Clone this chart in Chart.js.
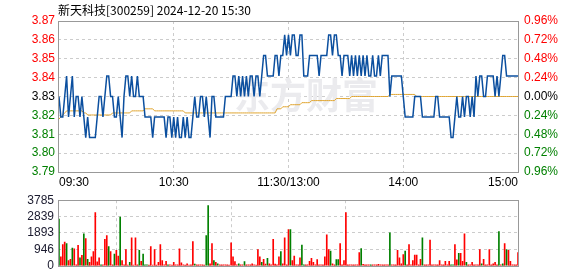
<!DOCTYPE html>
<html>
<head>
<meta charset="utf-8">
<script src="https://cdn.jsdelivr.net/npm/chart.js@4.4.1/dist/chart.umd.min.js"></script>
<style>
  body { margin: 0; background: #fff; width: 578px; height: 276px; overflow: hidden; position: relative; }
  canvas { position: absolute; left: 0; }
  #priceChart { top: 0; }
  #volChart { top: 189px; }
</style>
</head>
<body>
<canvas id="priceChart" width="578" height="192"></canvas>
<canvas id="volChart" width="578" height="88"></canvas>
<script>
// chart data, one value per minute 09:30 .. 15:00 (241 points)
const chartTitle = '新天科技[300259] 2024-12-20 15:30';
const prevClose = 3.83;
const timeLabels = ['09:30', '10:30', '11:30/13:00', '14:00', '15:00'];
const timeTicks = [0, 60, 120, 180, 240];
const pctSteps = [-0.96, -0.72, -0.48, -0.24, 0, 0.24, 0.48, 0.72, 0.96];
const volTicks = [0, 946, 1893, 2839, 3785];

const prices = [
  3.83,3.82,3.82,3.83,3.84,3.82,3.83,3.84,3.82,3.83,
  3.83,3.82,3.83,3.82,3.81,3.82,3.81,3.81,3.81,3.81,
  3.82,3.83,3.83,3.82,3.83,3.84,3.84,3.83,3.83,3.82,
  3.82,3.83,3.82,3.81,3.83,3.84,3.84,3.83,3.84,3.83,
  3.83,3.84,3.83,3.83,3.83,3.82,3.82,3.82,3.82,3.81,
  3.82,3.82,3.82,3.82,3.82,3.82,3.81,3.82,3.82,3.81,
  3.82,3.81,3.82,3.81,3.81,3.82,3.81,3.82,3.81,3.81,
  3.82,3.83,3.82,3.82,3.83,3.83,3.82,3.83,3.82,3.81,
  3.83,3.83,3.82,3.82,3.82,3.82,3.82,3.83,3.83,3.83,
  3.83,3.84,3.84,3.83,3.84,3.83,3.84,3.83,3.84,3.83,
  3.84,3.84,3.83,3.84,3.84,3.83,3.84,3.85,3.85,3.84,
  3.84,3.84,3.84,3.85,3.85,3.84,3.85,3.85,3.86,3.85,
  3.86,3.85,3.86,3.86,3.85,3.85,3.86,3.86,3.84,3.84,
  3.84,3.85,3.85,3.85,3.85,3.85,3.84,3.85,3.85,3.85,
  3.85,3.86,3.86,3.85,3.86,3.86,3.85,3.85,3.84,3.85,
  3.85,3.85,3.84,3.85,3.84,3.85,3.84,3.85,3.84,3.85,
  3.84,3.85,3.84,3.84,3.85,3.84,3.84,3.85,3.84,3.85,
  3.85,3.85,3.85,3.83,3.84,3.84,3.84,3.84,3.84,3.84,
  3.83,3.82,3.82,3.82,3.82,3.82,3.83,3.83,3.83,3.83,
  3.82,3.82,3.82,3.82,3.82,3.82,3.82,3.83,3.83,3.82,
  3.82,3.82,3.82,3.82,3.82,3.81,3.81,3.82,3.83,3.82,
  3.82,3.83,3.82,3.83,3.83,3.82,3.83,3.82,3.84,3.83,
  3.84,3.84,3.83,3.83,3.84,3.84,3.84,3.84,3.83,3.84,
  3.83,3.84,3.85,3.85,3.84,3.84,3.84,3.84,3.84,3.84,
  3.84
];

const avgPrices = [
  3.819,3.820,3.821,3.822,3.823,3.823,3.823,3.823,3.823,3.823,
  3.823,3.823,3.823,3.822,3.822,3.821,3.821,3.821,3.821,3.821,
  3.821,3.821,3.821,3.821,3.821,3.821,3.821,3.821,3.822,3.822,
  3.822,3.822,3.822,3.822,3.822,3.822,3.822,3.822,3.823,3.823,
  3.823,3.823,3.823,3.823,3.823,3.824,3.824,3.824,3.824,3.824,
  3.823,3.823,3.823,3.823,3.823,3.823,3.823,3.823,3.823,3.823,
  3.823,3.823,3.823,3.823,3.823,3.823,3.822,3.822,3.822,3.822,
  3.822,3.822,3.822,3.822,3.822,3.822,3.822,3.822,3.822,3.822,
  3.822,3.822,3.822,3.822,3.822,3.822,3.822,3.822,3.822,3.822,
  3.822,3.822,3.822,3.822,3.822,3.822,3.822,3.822,3.822,3.822,
  3.822,3.822,3.822,3.822,3.822,3.822,3.822,3.822,3.822,3.822,
  3.822,3.822,3.822,3.822,3.824,3.824,3.824,3.825,3.825,3.825,
  3.825,3.826,3.826,3.826,3.826,3.826,3.826,3.827,3.827,3.827,
  3.827,3.827,3.828,3.828,3.828,3.828,3.828,3.828,3.828,3.828,
  3.828,3.828,3.828,3.828,3.828,3.829,3.829,3.829,3.829,3.829,
  3.829,3.829,3.829,3.830,3.830,3.830,3.830,3.830,3.830,3.830,
  3.830,3.830,3.830,3.830,3.830,3.830,3.830,3.830,3.830,3.830,
  3.830,3.830,3.830,3.831,3.831,3.831,3.831,3.831,3.831,3.831,
  3.831,3.831,3.831,3.831,3.831,3.831,3.831,3.830,3.830,3.830,
  3.830,3.830,3.830,3.830,3.830,3.830,3.830,3.830,3.830,3.830,
  3.830,3.830,3.830,3.830,3.830,3.830,3.830,3.830,3.830,3.830,
  3.830,3.830,3.830,3.830,3.830,3.830,3.830,3.830,3.830,3.830,
  3.830,3.830,3.830,3.830,3.830,3.830,3.830,3.830,3.830,3.830,
  3.830,3.830,3.830,3.830,3.830,3.830,3.830,3.830,3.830,3.830,
  3.830
];

const volumes = [
  2700, 511,1228,1364,1279, 307, 375,1023, 972,  50,
  1177, 460, 597,1841,1569, 375, 205, 511, 818,3069,
   230, 460,  60,  50,1534,1739,1108, 818,  60, 682,
   887, 563,2813, 307,  60, 938,  40, 200,1620,  40,
  1620,  60, 887, 256, 682,  50,  50,  40,1108,  40,
   938,  40, 200,1228, 307,  50, 255,  60,  50,  40,
   200,  50,  60, 972, 170,  50,  40, 120,  40,  50,
  1398, 100,  50,  50,  50,  50,  40,1739,3478, 120,
  1279, 307, 200, 120,  60,  60,  60,  60,  50,  40,
  1330, 511, 250,  60, 120,  50,  50, 250,  50,  50,
    60, 120,  60,  40, 938, 511, 200, 375, 100, 426,
   120,  60,1534, 100,  50, 511, 818, 120,1620,  60,
  2097,2097, 307, 563,  60,  60, 460,1193,  60,  50,
    50, 256, 426, 205,  50, 358,  60,  50,  50, 511,
  1790, 938, 852, 120,  50, 358, 358,1279,  60, 307,
  3069,  60,  60,  60,  60,  60,  50, 767, 989,  80,
    60,  50,  60,  50,  60,  50,  60,  80,  50,  60,
    50,  50,  60,1909,  60,  60,  50, 887, 460, 120,
   648, 852,  60,1228,  50, 307, 614, 614,  60, 375,
  1620,  50,  50,  50,1484,  60,  60,  60,  50, 300,
    60,  60, 256,  50, 256,  60,  60,1228, 340, 716,
   716, 256,1841, 200,  60,  60, 200,  60,  60,  50,
   938, 120, 375,  60,  60, 938,  60, 120, 200,  60,
  1977,  60, 120,1279, 938, 887, 256,  50,  50,  50,
   767
];

// r = up minute (red), g = down minute (green)
const volSides = [
  'g','r','r','r','g','r','r','g','r','r',
  'r','g','r','g','r','g','r','r','r','r',
  'r','r','g','r','r','r','g','r','r','g',
  'r','r','g','r','r','r','r','g','r','r',
  'r','r','g','r','g','g','g','r','r','r',
  'r','r','r','r','r','r','r','g','r','r',
  'r','r','r','r','r','r','r','r','r','r',
  'r','g','r','r','r','r','r','g','g','r',
  'r','g','r','g','r','r','r','r','r','r',
  'r','r','r','r','g','r','r','g','r','r',
  'r','r','r','r','r','r','g','r','r','g',
  'r','r','r','r','r','r','g','r','r','r',
  'r','g','r','r','r','r','r','g','g','r',
  'r','r','r','r','r','r','r','r','r','r',
  'r','r','g','r','r','g','g','r','r','r',
  'r','r','r','r','r','r','r','r','g','r',
  'r','r','r','g','r','r','r','r','r','r',
  'r','r','r','g','r','r','r','r','r','r',
  'r','g','r','r','r','r','r','r','r','r',
  'g','r','r','r','r','r','r','r','r','r',
  'r','r','r','r','r','g','g','r','r','g',
  'r','r','r','g','r','r','r','r','r','r',
  'r','g','r','r','r','r','r','r','r','r',
  'g','r','g','r','g','r','r','r','r','r',
  'r'
];

const upColor = '#ff0000', downColor = '#008000', flatColor = '#000000';
const gridColor = '#cccccc';
Chart.defaults.font.family = "'Liberation Sans', Arial, sans-serif";
Chart.defaults.font.size = 12;

const yMin = prevClose * (1 - 0.0096);
const yMax = prevClose * (1 + 0.0096);
const priceTicks = pctSteps.map(p => prevClose * (1 + p / 100));

function sideColor(ctx) {
  let v = ctx.tick.value;
  if (Math.abs(v - prevClose) < 1e-6) return flatColor;
  return v > prevClose ? upColor : downColor;
}

// solid grey frame round the plot area
const framePlugin = {
  id: 'frame',
  afterDraw(chart) {
    let a = chart.chartArea, c = chart.ctx;
    c.save();
    c.strokeStyle = '#999';
    c.lineWidth = 1;
    c.strokeRect(Math.round(a.left) + 0.5, Math.round(a.top) + 0.5, Math.round(a.right - a.left) - 1, Math.round(a.bottom - a.top));
    c.restore();
  }
};

const titlePlugin = {
  id: 'pageTitle',
  afterDraw(chart) {
    let c = chart.ctx;
    c.save();
    c.fillStyle = '#000';
    c.font = "12px 'Noto Sans CJK SC'";
    c.textBaseline = 'middle';
    c.fillText(chartTitle, 58, 10);
    c.restore();
  }
};

const watermarkPlugin = {
  id: 'watermark',
  beforeDatasetsDraw(chart) {
    let c = chart.ctx;
    c.save();
    c.fillStyle = '#ebebee';
    c.font = "bold 36px 'Noto Sans CJK SC'";
    c.textBaseline = 'middle';
    c.fillText('东方财富', 234, 95);
    c.restore();
  }
};

new Chart(document.getElementById('priceChart'), {
  type: 'line',
  data: {
    datasets: [
      {
        data: prices.map((p, i) => ({ x: i, y: p })),
        borderColor: '#0b4f9f', borderWidth: 1.5, pointRadius: 0, tension: 0
      },
      {
        data: avgPrices.map((p, i) => ({ x: i, y: p })),
        borderColor: '#e0a530', borderWidth: 1, pointRadius: 0, tension: 0
      }
    ]
  },
  options: {
    responsive: false, animation: false, devicePixelRatio: 1,
    layout: { padding: { top: 21 } },
    plugins: { legend: { display: false }, tooltip: { enabled: false } },
    scales: {
      x: {
        type: 'linear', min: -0.5, max: 240.5,
        afterBuildTicks: s => { s.ticks = timeTicks.map(v => ({ value: v })); },
        ticks: { callback: (v, i) => timeLabels[i], align: 'inner', maxRotation: 0, autoSkip: false, padding: 3, color: '#000' },
        grid: { color: c => (c.index === 0 || c.index === 4) ? 'rgba(0,0,0,0)' : gridColor, drawTicks: false },
        border: { display: false, dash: [3, 3] },
        afterFit: s => { s.height = 20; }
      },
      y: {
        position: 'left', min: yMin, max: yMax,
        afterBuildTicks: s => { s.ticks = priceTicks.map(v => ({ value: v })); },
        ticks: { callback: v => v.toFixed(2), color: sideColor, padding: 3 },
        grid: { color: gridColor, drawTicks: false },
        border: { display: false, dash: [3, 3] },
        afterFit: s => { s.width = 58; }
      },
      y2: {
        position: 'right', min: yMin, max: yMax,
        afterBuildTicks: s => { s.ticks = priceTicks.map(v => ({ value: v })); },
        ticks: { callback: v => Math.abs((v - prevClose) / prevClose * 100).toFixed(2) + '%', color: sideColor, padding: 5 },
        grid: { display: false, drawTicks: false },
        border: { display: false },
        afterFit: s => { s.width = 59; }
      }
    }
  },
  plugins: [watermarkPlugin, framePlugin, titlePlugin]
});

new Chart(document.getElementById('volChart'), {
  type: 'bar',
  data: {
    datasets: [{
      data: volumes.map((v, i) => ({ x: i, y: v })),
      backgroundColor: volSides.map(s => s === 'r' ? upColor : downColor),
      barThickness: 1
    }]
  },
  options: {
    responsive: false, animation: false, devicePixelRatio: 1,
    layout: { padding: { top: 7 } },
    plugins: { legend: { display: false }, tooltip: { enabled: false } },
    scales: {
      x: {
        type: 'linear', min: -0.5, max: 240.5, offset: false,
        afterBuildTicks: s => { s.ticks = timeTicks.map(v => ({ value: v })); },
        ticks: { display: false },
        grid: { color: c => (c.index === 0 || c.index === 4) ? 'rgba(0,0,0,0)' : gridColor, drawTicks: false },
        border: { display: false, dash: [3, 3] },
        afterFit: s => { s.height = 7; }
      },
      y: {
        min: 0, max: 3785,
        afterBuildTicks: s => { s.ticks = volTicks.map(v => ({ value: v })); },
        ticks: { callback: v => String(v), color: '#1a1a2e', padding: 4 },
        grid: { color: gridColor, drawTicks: false },
        border: { display: false, dash: [3, 3] },
        afterFit: s => { s.width = 58; }
      }
    },
    layout: { padding: { top: 7, right: 59 } }
  },
  plugins: [framePlugin]
});
</script>
</body>
</html>
